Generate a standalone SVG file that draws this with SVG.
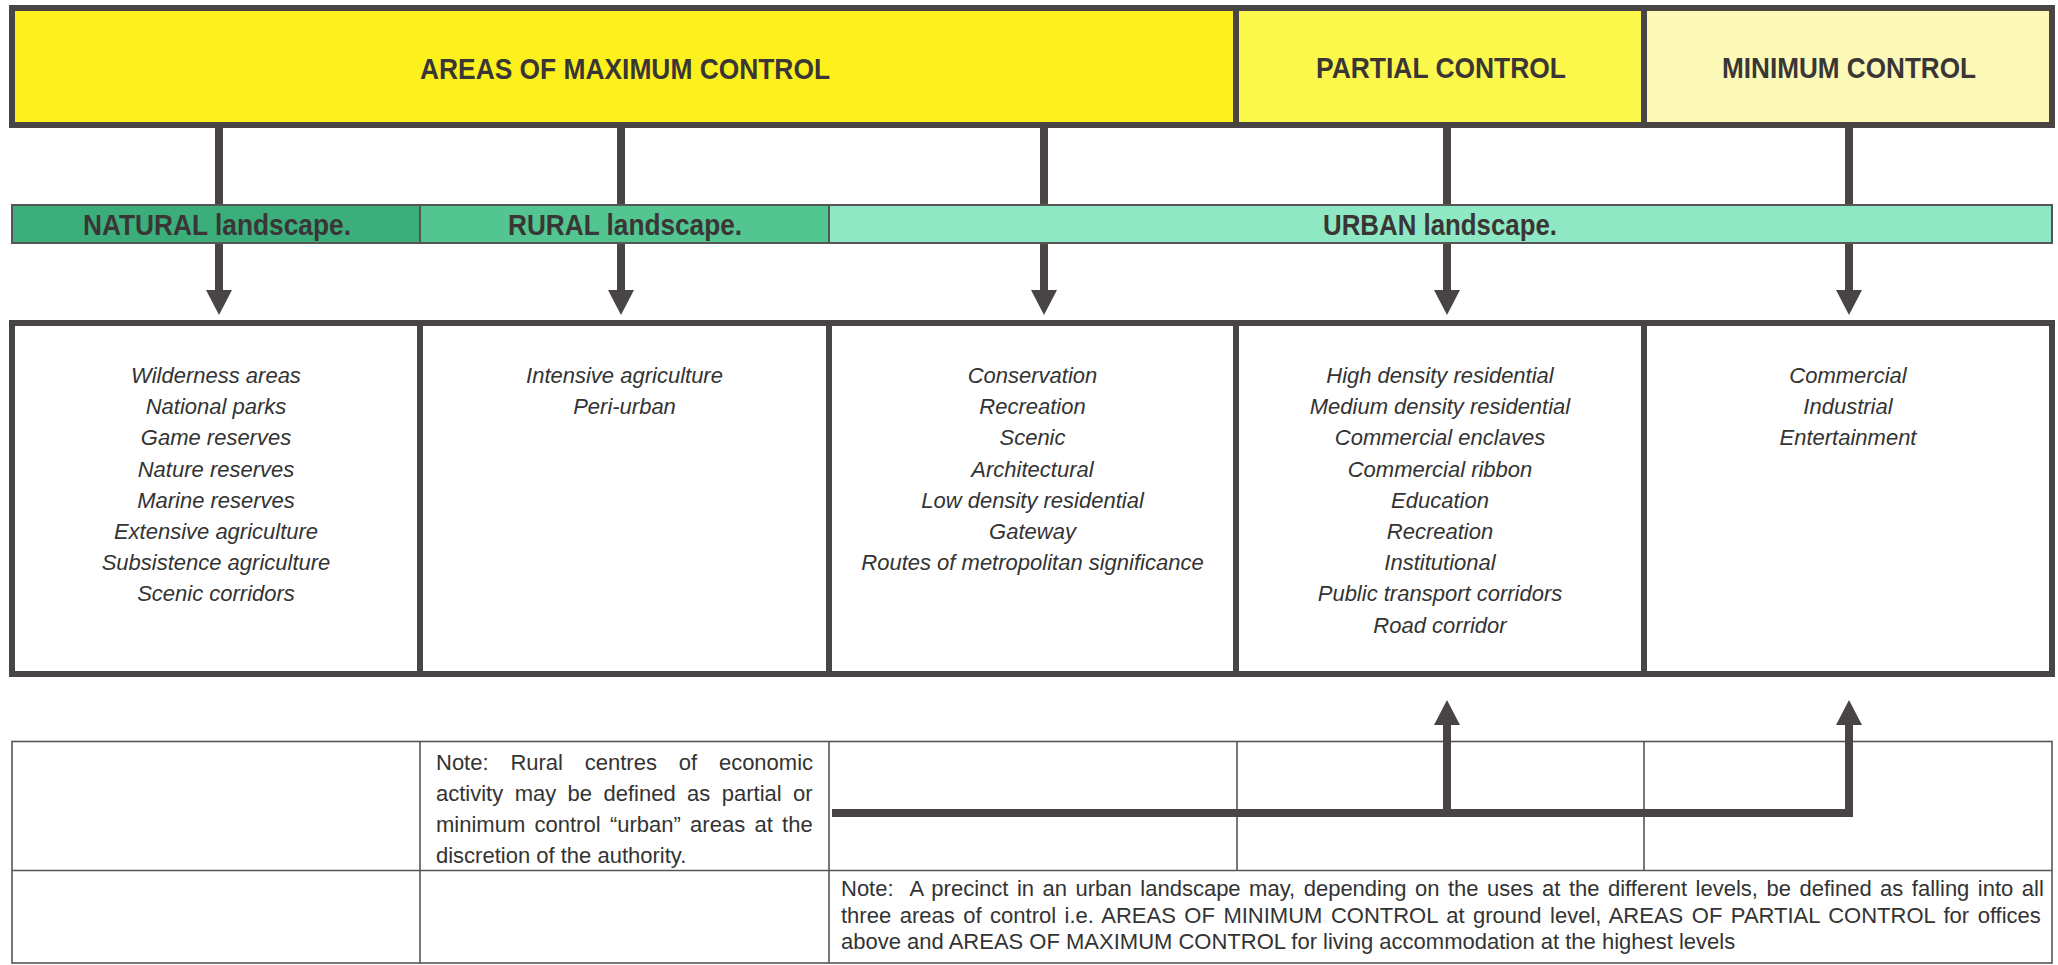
<svg xmlns="http://www.w3.org/2000/svg" width="2058" height="965" viewBox="0 0 2058 965">
  <defs>
    <marker id="ah" viewBox="0 0 25 26" refX="1" refY="13" markerWidth="25" markerHeight="26" markerUnits="userSpaceOnUse" orient="auto">
      <path d="M0,0 L25,13 L0,26 z" fill="#4a4545"/>
    </marker>
    <style>
      .head{font-family:"Liberation Sans",Arial,sans-serif;font-weight:bold;fill:#3a3636;}
      .body{font-family:"Liberation Sans",Arial,sans-serif;font-style:italic;font-size:22px;fill:#333;text-anchor:middle;}
      .note{font-family:"Liberation Sans",Arial,sans-serif;font-size:22px;fill:#333;}
      .conn{fill:none;stroke:#4a4545;stroke-width:8;}
      .thick{stroke:#4a4545;stroke-width:6;}
      .thin{stroke:#555;stroke-width:1.6;fill:none;}
      .gb{stroke:#555;stroke-width:2;}
    </style>
  </defs>
  <rect width="2058" height="965" fill="#ffffff"/>

  <g id="connectors">
    <line class="conn" x1="219" y1="127" x2="219" y2="291" marker-end="url(#ah)"/>
    <line class="conn" x1="621" y1="127" x2="621" y2="291" marker-end="url(#ah)"/>
    <line class="conn" x1="1044" y1="127" x2="1044" y2="291" marker-end="url(#ah)"/>
    <line class="conn" x1="1447" y1="127" x2="1447" y2="291" marker-end="url(#ah)"/>
    <line class="conn" x1="1849" y1="127" x2="1849" y2="291" marker-end="url(#ah)"/>
  </g>

  <g id="control-bar">
    <rect x="12" y="8" width="1224" height="117" fill="#fcf11c"/>
    <rect x="1236" y="8" width="408" height="117" fill="#fdf84c"/>
    <rect x="1644" y="8" width="408" height="117" fill="#fdf9b8"/>
    <rect x="12" y="8" width="2040" height="117" fill="none" class="thick"/>
    <line class="thick" x1="1236" y1="8" x2="1236" y2="125"/>
    <line class="thick" x1="1644" y1="8" x2="1644" y2="125"/>
    <text class="head" x="420" y="79" font-size="30" textLength="410" lengthAdjust="spacingAndGlyphs">AREAS OF MAXIMUM CONTROL</text>
    <text class="head" x="1316" y="78" font-size="30" textLength="250" lengthAdjust="spacingAndGlyphs">PARTIAL CONTROL</text>
    <text class="head" x="1722" y="78" font-size="30" textLength="254" lengthAdjust="spacingAndGlyphs">MINIMUM CONTROL</text>
  </g>

  <g id="landscape-bar">
    <rect class="gb" x="12" y="205" width="408" height="38" fill="#3cae7c"/>
    <rect class="gb" x="420" y="205" width="409" height="38" fill="#52c590"/>
    <rect class="gb" x="829" y="205" width="1223" height="38" fill="#8fe8c4"/>
    <text class="head" x="83" y="235" font-size="29" textLength="268" lengthAdjust="spacingAndGlyphs">NATURAL landscape.</text>
    <text class="head" x="508" y="235" font-size="29" textLength="234" lengthAdjust="spacingAndGlyphs">RURAL landscape.</text>
    <text class="head" x="1323" y="235" font-size="29" textLength="234" lengthAdjust="spacingAndGlyphs">URBAN landscape.</text>
  </g>

  <g id="use-boxes">
    <rect x="12" y="323" width="2040" height="351" fill="#ffffff" class="thick"/>
    <line class="thick" x1="420" y1="323" x2="420" y2="674"/>
    <line class="thick" x1="829" y1="323" x2="829" y2="674"/>
    <line class="thick" x1="1236" y1="323" x2="1236" y2="674"/>
    <line class="thick" x1="1644" y1="323" x2="1644" y2="674"/>
  </g>

  <g id="natural-uses">
    <text class="body" x="216" y="383">Wilderness areas</text>
    <text class="body" x="216" y="414.2">National parks</text>
    <text class="body" x="216" y="445.4">Game reserves</text>
    <text class="body" x="216" y="476.6">Nature reserves</text>
    <text class="body" x="216" y="507.8">Marine reserves</text>
    <text class="body" x="216" y="539">Extensive agriculture</text>
    <text class="body" x="216" y="570.2">Subsistence agriculture</text>
    <text class="body" x="216" y="601.4">Scenic corridors</text>
  </g>
  <g id="rural-uses">
    <text class="body" x="624.5" y="383">Intensive agriculture</text>
    <text class="body" x="624.5" y="414.2">Peri-urban</text>
  </g>
  <g id="urban-max-uses">
    <text class="body" x="1032.5" y="383">Conservation</text>
    <text class="body" x="1032.5" y="414.2">Recreation</text>
    <text class="body" x="1032.5" y="445.4">Scenic</text>
    <text class="body" x="1032.5" y="476.6">Architectural</text>
    <text class="body" x="1032.5" y="507.8">Low density residential</text>
    <text class="body" x="1032.5" y="539">Gateway</text>
    <text class="body" x="1032.5" y="570.2">Routes of metropolitan significance</text>
  </g>
  <g id="urban-partial-uses">
    <text class="body" x="1440" y="383">High density residential</text>
    <text class="body" x="1440" y="414.2">Medium density residential</text>
    <text class="body" x="1440" y="445.4">Commercial enclaves</text>
    <text class="body" x="1440" y="476.6">Commercial ribbon</text>
    <text class="body" x="1440" y="507.8">Education</text>
    <text class="body" x="1440" y="539">Recreation</text>
    <text class="body" x="1440" y="570.2">Institutional</text>
    <text class="body" x="1440" y="601.4">Public transport corridors</text>
    <text class="body" x="1440" y="632.6">Road corridor</text>
  </g>
  <g id="urban-min-uses">
    <text class="body" x="1848" y="383">Commercial</text>
    <text class="body" x="1848" y="414.2">Industrial</text>
    <text class="body" x="1848" y="445.4">Entertainment</text>
  </g>

  <g id="notes-table">
    <rect class="thin" x="12" y="741.5" width="2040" height="221.5"/>
    <line class="thin" x1="12" y1="870.5" x2="2052" y2="870.5"/>
    <line class="thin" x1="420" y1="741.5" x2="420" y2="963"/>
    <line class="thin" x1="829" y1="741.5" x2="829" y2="963"/>
    <line class="thin" x1="1237" y1="741.5" x2="1237" y2="870.5"/>
    <line class="thin" x1="1644" y1="741.5" x2="1644" y2="870.5"/>
  </g>

  <g id="connectors-up">
    <path class="conn" d="M832 813 H1849 V724" stroke-linejoin="miter" marker-end="url(#ah)"/>
    <line class="conn" x1="1447" y1="813" x2="1447" y2="724" marker-end="url(#ah)"/>
  </g>

  <g id="note-rural">
    <text class="note" x="436" y="770" word-spacing="15.7">Note: Rural centres of economic</text>
    <text class="note" x="436" y="801" word-spacing="5.3">activity may be defined as partial or</text>
    <text class="note" x="436" y="832" word-spacing="3.2">minimum control “urban” areas at the</text>
    <text class="note" x="436" y="863">discretion of the authority.</text>
  </g>

  <g id="note-urban">
    <text class="note" x="841" y="896" word-spacing="2.4">Note:&#160; A precinct in an urban landscape may, depending on the uses at the different levels, be defined as falling into all</text>
    <text class="note" x="841" y="922.5" word-spacing="2.4">three areas of control i.e. AREAS OF MINIMUM CONTROL at ground level, AREAS OF PARTIAL CONTROL for offices</text>
    <text class="note" x="841" y="949">above and AREAS OF MAXIMUM CONTROL for living accommodation at the highest levels</text>
  </g>
</svg>
